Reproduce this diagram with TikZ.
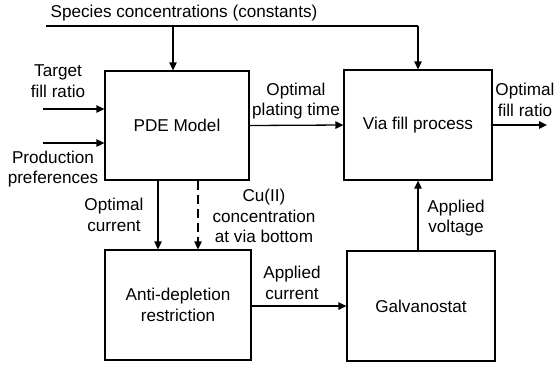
\documentclass[tikz,border=0pt]{standalone}
\usepackage{fontspec}
\setmainfont{Liberation Sans}
\usetikzlibrary{arrows.meta}
\begin{document}
\begin{tikzpicture}[x=1bp,y=-1bp,
  lbl/.style={align=center,inner sep=0pt},
  ar/.style={line width=1.3bp,-{Triangle[length=8bp,width=7.5bp]}},
  ln/.style={line width=1.3bp},
  blk/.style={draw,line width=1.3bp,minimum height=110bp,inner sep=0pt,align=center},
  every node/.style={font=\fontsize{17.2}{20.5}\selectfont}]
\useasboundingbox (0,0) rectangle (557,365);
% boxes
\node[blk,minimum width=144bp,minimum height=109bp] (pde) at (177,125.5) {PDE Model};
\node[blk,minimum width=148bp] (via) at (418,125) {Via fill process};
\node[blk,minimum width=146bp] (anti) at (178,305) {Anti-depletion\\restriction};
\node[blk,minimum width=148bp] (gal) at (421,306) {Galvanostat};
% species line
\node[lbl] (spec) at (184,13) {Species concentrations (constants)};
\coordinate (sL) at (46,26);
\coordinate (sR) at (418,26);
\draw[ln] (sL) -- (sR);
\draw[ar] (sL -| 173,0) -- (pde.north -| 173,0);
\draw[ar] (sR) -- (via.north);
% inputs
\coordinate (t0) at (43,109);
\coordinate (p0) at (43,143);
\draw[ar] (t0) -- (t0 -| pde.west);
\draw[ar] (p0) -- (p0 -| pde.west);
\node[lbl] (tfr) at (58,81) {Target\\fill ratio};
\node[lbl] (pp) at (53,169) {Production\\preferences};
% pde -> via
\draw[ar] (pde.east) -- (via.west);
\node[lbl] (opt) at (296,101) {Optimal\\plating time};
% output
\coordinate (out) at (547,125);
\draw[ar] (via.east) -- (out);
\node[lbl] (ofr) at (525,100) {Optimal\\fill ratio};
% pde -> anti
\draw[ar] (pde.south -| 158,0) -- (anti.north -| 158,0);
\draw[ar,dash pattern=on 9bp off 5bp] (pde.south -| 198,0) -- (anti.north -| 198,0);
\node[lbl] (oc) at (114,215) {Optimal\\current};
\node[lbl] (cu) at (264,216) {Cu(II)\\concentration\\at via bottom};
% anti -> gal
\draw[ar] (anti.east |- 0,306) -- (gal.west |- 0,306);
\node[lbl] (ac) at (292,283) {Applied\\current};
% gal -> via
\draw[ar] (gal.north -| via.south) -- (via.south);
\node[lbl] (av) at (456,218) {Applied\\voltage};
\end{tikzpicture}
\end{document}
